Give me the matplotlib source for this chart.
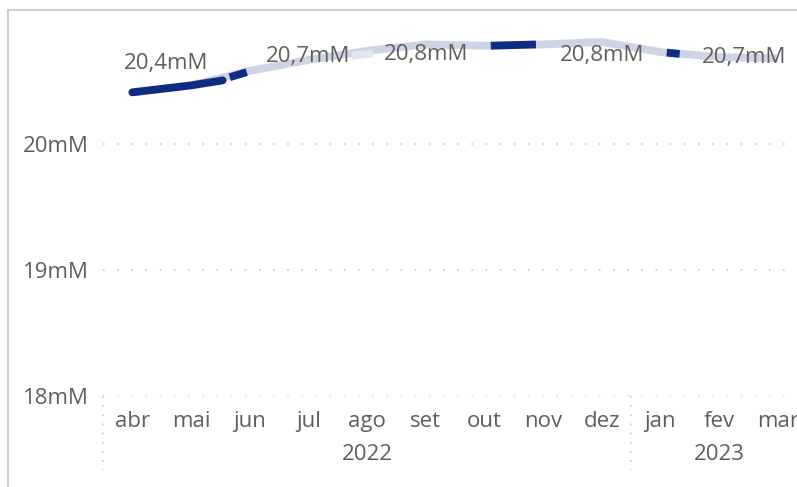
import matplotlib.pyplot as plt
from matplotlib.lines import Line2D

plt.rcParams["font.family"] = ["Open Sans", "DejaVu Sans"]

# Data

months = ["abr", "mai", "jun", "jul", "ago", "set", "out", "nov", "dez", "jan", "fev", "mar"]
values = [20.41, 20.465, 20.58, 20.667, 20.74, 20.79, 20.78, 20.79, 20.81, 20.73, 20.69, 20.68]

# dark highlighted pieces of the line (month position, value)
dark_x = [[0, 1, 1.54], [1.66, 1.95], [6.11, 6.88], [9.11, 9.33]]
dark_y = [[20.41, 20.465, 20.505], [20.53, 20.57], [20.78, 20.79], [20.725, 20.715]]

# faded piece
fade_x = [3.74, 4.1]
fade_y = [20.70, 20.72]

label_idx = [0, 3, 5, 8, 11]
label_txt = ["20,4mM", "20,7mM", "20,8mM", "20,8mM", "20,7mM"]
label_off = [(34, 29), (0, 3), (0, -10), (0, -14), (-34, 1)]

years = ["2022", "2023"]
year_pos = [4, 10]

yticks = [18, 19, 20]
ytick_labels = ["18mM", "19mM", "20mM"]

NAVY = "#0E2D82"
LIGHT = "#CED4E6"
TEXT = "#605E5C"
GRID = "#C8C8C8"

# Figure

W, H = 797, 487
fig = plt.figure(figsize=(W / 100, H / 100), dpi=100)
ax = fig.add_axes([103 / W, (H - 396) / H, (W - 103) / W, 378 / H])

x = list(range(len(months)))
ax.plot(x, values, color=LIGHT, lw=5.6, solid_capstyle="butt", solid_joinstyle="round", zorder=3)
ax.plot(fade_x, fade_y, color="#E1E5F0", lw=5.6, solid_capstyle="butt", zorder=4)
for i, (sx, sy) in enumerate(zip(dark_x, dark_y)):
    cap = "round" if i == 0 else "butt"
    ax.plot(sx, sy, color=NAVY, lw=5.6, solid_capstyle=cap, solid_joinstyle="round", zorder=5)

for i, t, off in zip(label_idx, label_txt, label_off):
    ax.annotate(t, (x[i], values[i]), xytext=off, textcoords="offset pixels",
                ha="center", va="center", fontsize=16, color=TEXT, zorder=6)

ax.set_xlim(-0.5, 11.33)
ax.set_ylim(18, 21)

ax.set_yticks(yticks)
ax.set_yticklabels(ytick_labels)
ax.set_xticks(x)
ax.set_xticklabels(months)
ax.tick_params(axis="both", length=0, labelsize=16, labelcolor=TEXT)
ax.tick_params(axis="x", pad=11)
ax.tick_params(axis="y", pad=10)

ax.yaxis.grid(True, color=GRID, lw=1.2, linestyle=(0, (1, 7.5)))
ax.set_axisbelow(True)
for s in ax.spines.values():
    s.set_visible(False)

# year labels and separators below the axis
xt = ax.get_xaxis_transform()
for yr, p in zip(years, year_pos):
    ax.text(p, -0.156, yr, transform=xt, ha="center", va="center", fontsize=16, color=TEXT)
for sep in [-0.5, 8.5]:
    ax.plot([sep, sep], [0, -0.196], transform=xt, color=GRID, lw=1.2,
            linestyle=(0, (1, 4.5)), clip_on=False)

# outer frame (top and left)
fig.add_artist(Line2D([8 / W, 8 / W], [0, (H - 10) / H], color="#C6C6C6", lw=1.2))
fig.add_artist(Line2D([8 / W, 1], [(H - 10) / H, (H - 10) / H], color="#C6C6C6", lw=1.2))

plt.savefig("out.png", dpi=100)
